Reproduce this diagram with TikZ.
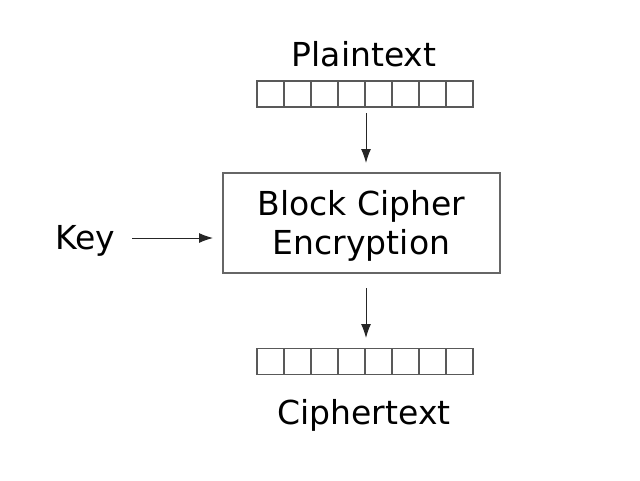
\documentclass[tikz,border=0pt]{standalone}
\usepackage{fontspec}
\setmainfont{DejaVu Sans}
\usetikzlibrary{arrows.meta}
\begin{document}
\begin{tikzpicture}[x=1pt,y=-1pt,
  lbl/.style={font=\fontsize{33}{38}\selectfont, inner sep=0pt},
  cell/.style={draw=black!65, line width=1.3pt, minimum width=27pt, minimum height=26pt, inner sep=0pt},
  conn/.style={draw=black!85, line width=1pt, -{Latex[length=14pt,width=10pt]}},
  boxst/.style={draw=black!60, line width=1.2pt, minimum width=277pt, minimum height=100pt, inner sep=0pt},
  boxtxt/.style={align=center, inner sep=0pt, font=\fontsize{33}{39}\selectfont}]
\useasboundingbox (0,0) rectangle (640,480);
\fill[white] (0,0) rectangle (640,480);
\node[lbl] (pt) at (364,54.5) {Plaintext};
\foreach \i in {0,...,7} {
  \node[cell] (p\i) at (270.5+27*\i,94) {};
  \node[cell] (c\i) at (270.5+27*\i,361.5) {};
}
\node[lbl] (ct) at (364,415.5) {Ciphertext};
\node[boxst] (bc) at (361.5,223) {};
\node[boxtxt] (bct) at (361.5,226) {Block Cipher\\Encryption};
\node[lbl] (key) at (85,240.5) {Key};
\coordinate (a1s) at (366,113);
\coordinate (a1e) at (366,163);
\coordinate (a2s) at (366,288);
\coordinate (a2e) at (366,338);
\coordinate (ks) at (132,238);
\coordinate (ke) at (213,238);
\draw[conn] (a1s) -- (a1e);
\draw[conn] (a2s) -- (a2e);
\draw[conn] (ks) -- (ke);
\end{tikzpicture}
\end{document}
